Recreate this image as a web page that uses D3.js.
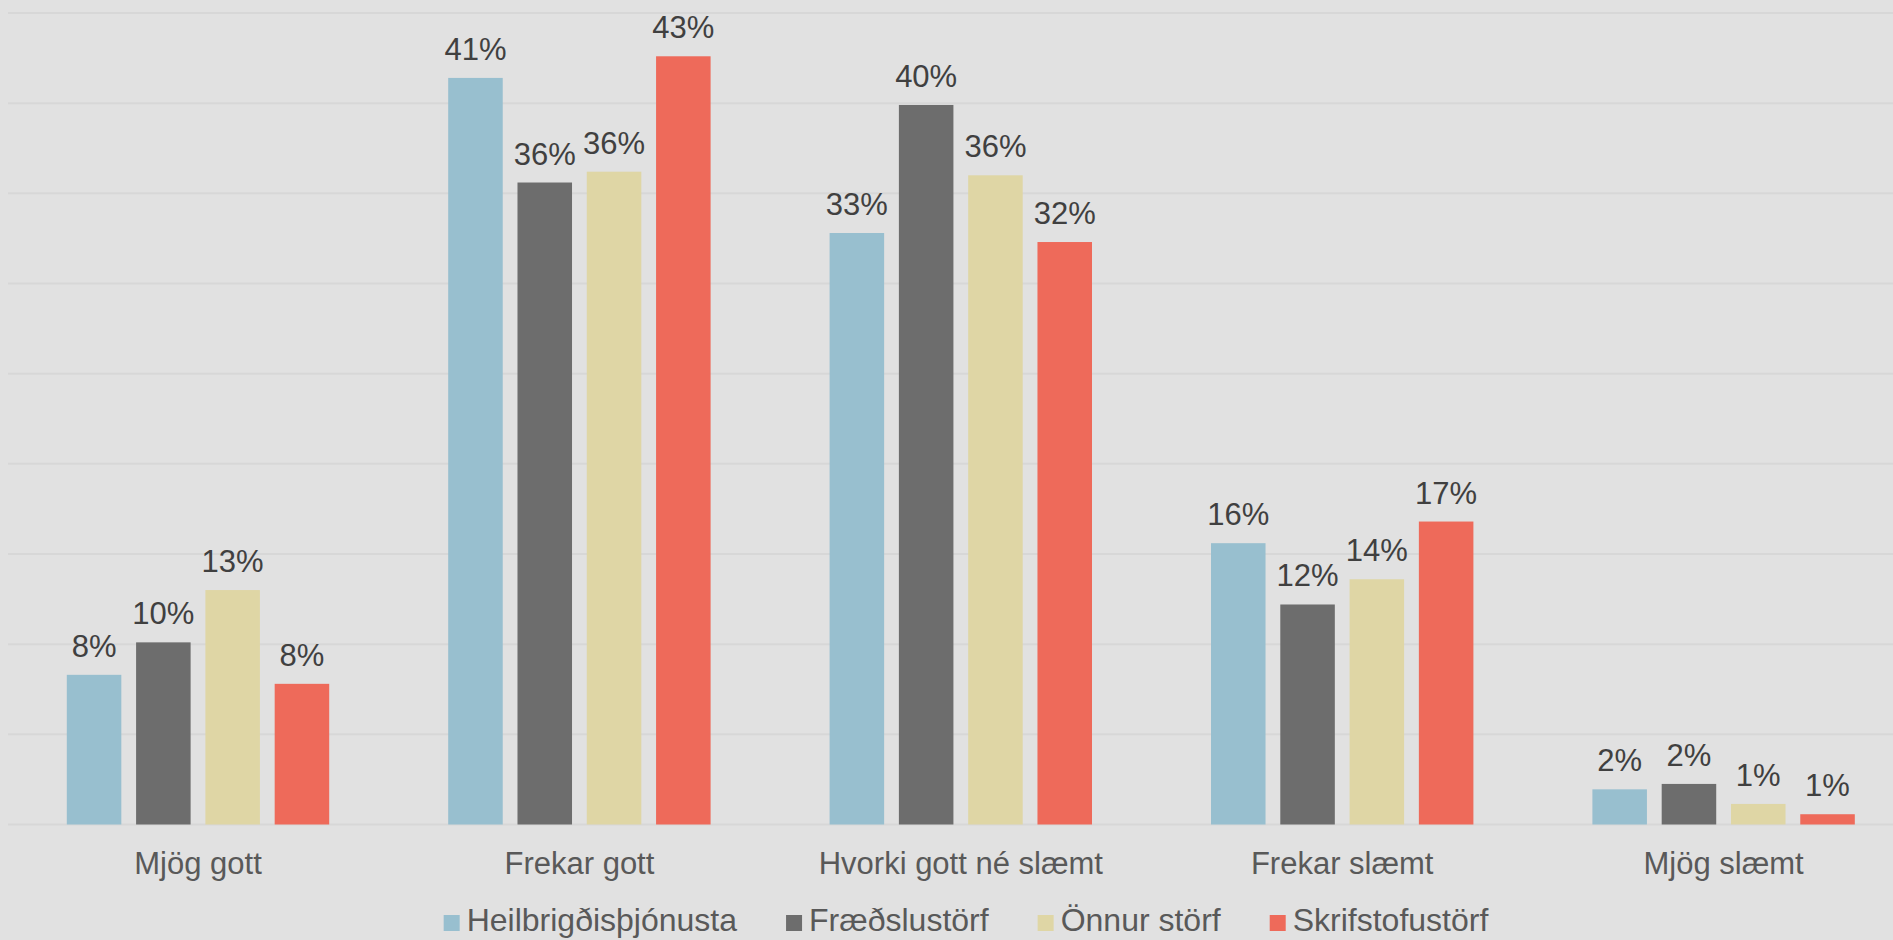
<!DOCTYPE html>
<html>
<head>
<meta charset="utf-8">
<script src="https://cdn.jsdelivr.net/npm/d3@7"></script>
<style>
  html, body { margin: 0; padding: 0; background: #e1e1e1; overflow: hidden; }
  svg { display: block; font-family: "Liberation Sans", Arial, sans-serif; }
</style>
</head>
<body>
<svg id="chart"></svg>
<script>
const width = 1893;
const height = 940;

// flokkar og raðir
const categories = ["Mjög gott", "Frekar gott", "Hvorki gott né slæmt", "Frekar slæmt", "Mjög slæmt"];
const seriesNames = ["Heilbrigðisþjónusta", "Fræðslustörf", "Önnur störf", "Skrifstofustörf"];
const seriesColors = ["#98bfcf", "#6d6d6d", "#dfd6a5", "#ee6a5a"];

const heilbrigdis = [8.3, 41.4, 32.8, 15.6, 1.95];
const fraedslu = [10.1, 35.6, 39.9, 12.2, 2.25];
const onnur = [13.0, 36.2, 36.0, 13.6, 1.14];
const skrifstofu = [7.8, 42.6, 32.3, 16.8, 0.57];
const seriesValues = [heilbrigdis, fraedslu, onnur, skrifstofu];

const gridTicks = [0, 5, 10, 15, 20, 25, 30, 35, 40, 45];

const svg = d3.select("#chart").attr("width", width).attr("height", height);

const x0 = d3.scaleBand()
  .domain(categories)
  .range([7.3, 1914.3])
  .paddingInner(0.312)
  .paddingOuter(0.156);

const x1 = d3.scaleBand()
  .domain(seriesNames)
  .range([0, x0.bandwidth()])
  .paddingInner(0.213)
  .paddingOuter(0);

const y = d3.scaleLinear()
  .domain([0, 45])
  .range([824.5, 13]);

const color = d3.scaleOrdinal().domain(seriesNames).range(seriesColors);

// gridlínur
svg.append("g")
  .selectAll("line")
  .data(gridTicks)
  .join("line")
  .attr("x1", 8)
  .attr("x2", width)
  .attr("y1", d => y(d))
  .attr("y2", d => y(d))
  .attr("stroke", "#d7d7d7")
  .attr("stroke-width", 2);

// súlur
const rows = categories.map((c, i) => ({
  cat: c,
  vals: seriesNames.map((s, j) => ({ s, v: seriesValues[j][i] }))
}));

const groups = svg.append("g")
  .selectAll("g")
  .data(rows)
  .join("g")
  .attr("transform", d => `translate(${x0(d.cat)},0)`);

groups.selectAll("rect")
  .data(d => d.vals)
  .join("rect")
  .attr("x", d => x1(d.s))
  .attr("width", x1.bandwidth())
  .attr("y", d => y(d.v))
  .attr("height", d => y(0) - y(d.v))
  .attr("fill", d => color(d.s));

groups.selectAll("text")
  .data(d => d.vals)
  .join("text")
  .attr("x", d => x1(d.s) + x1.bandwidth() / 2)
  .attr("y", d => y(d.v) - 18)
  .attr("text-anchor", "middle")
  .attr("font-size", 31)
  .attr("fill", "#404040")
  .text(d => Math.round(d.v) + "%");

// flokkaheiti
const xAxis = svg.append("g")
  .attr("transform", `translate(0,${y(0)})`)
  .call(d3.axisBottom(x0).tickSize(0).tickPadding(0));
xAxis.select(".domain").remove();
xAxis.selectAll("text")
  .attr("y", 49)
  .attr("dy", null)
  .attr("font-size", 31)
  .attr("font-family", "Liberation Sans, Arial, sans-serif")
  .attr("fill", "#595959");

// skýringar
const legend = svg.append("g");
const items = legend.selectAll("g")
  .data(seriesNames)
  .join("g");

items.append("rect")
  .attr("width", 16)
  .attr("height", 16)
  .attr("y", 915)
  .attr("fill", d => color(d));

items.append("text")
  .attr("x", 23)
  .attr("y", 931)
  .attr("font-size", 32)
  .attr("fill", "#595959")
  .text(d => d);

let pos = 0;
const offsets = [];
items.each(function() {
  const w = d3.select(this).select("text").node().getComputedTextLength();
  offsets.push(pos);
  pos += 23 + w + 49;
});
const legendWidth = pos - 49;
const legendStart = 966 - legendWidth / 2;
items.attr("transform", (d, i) => `translate(${legendStart + offsets[i]},0)`);
</script>
</body>
</html>
